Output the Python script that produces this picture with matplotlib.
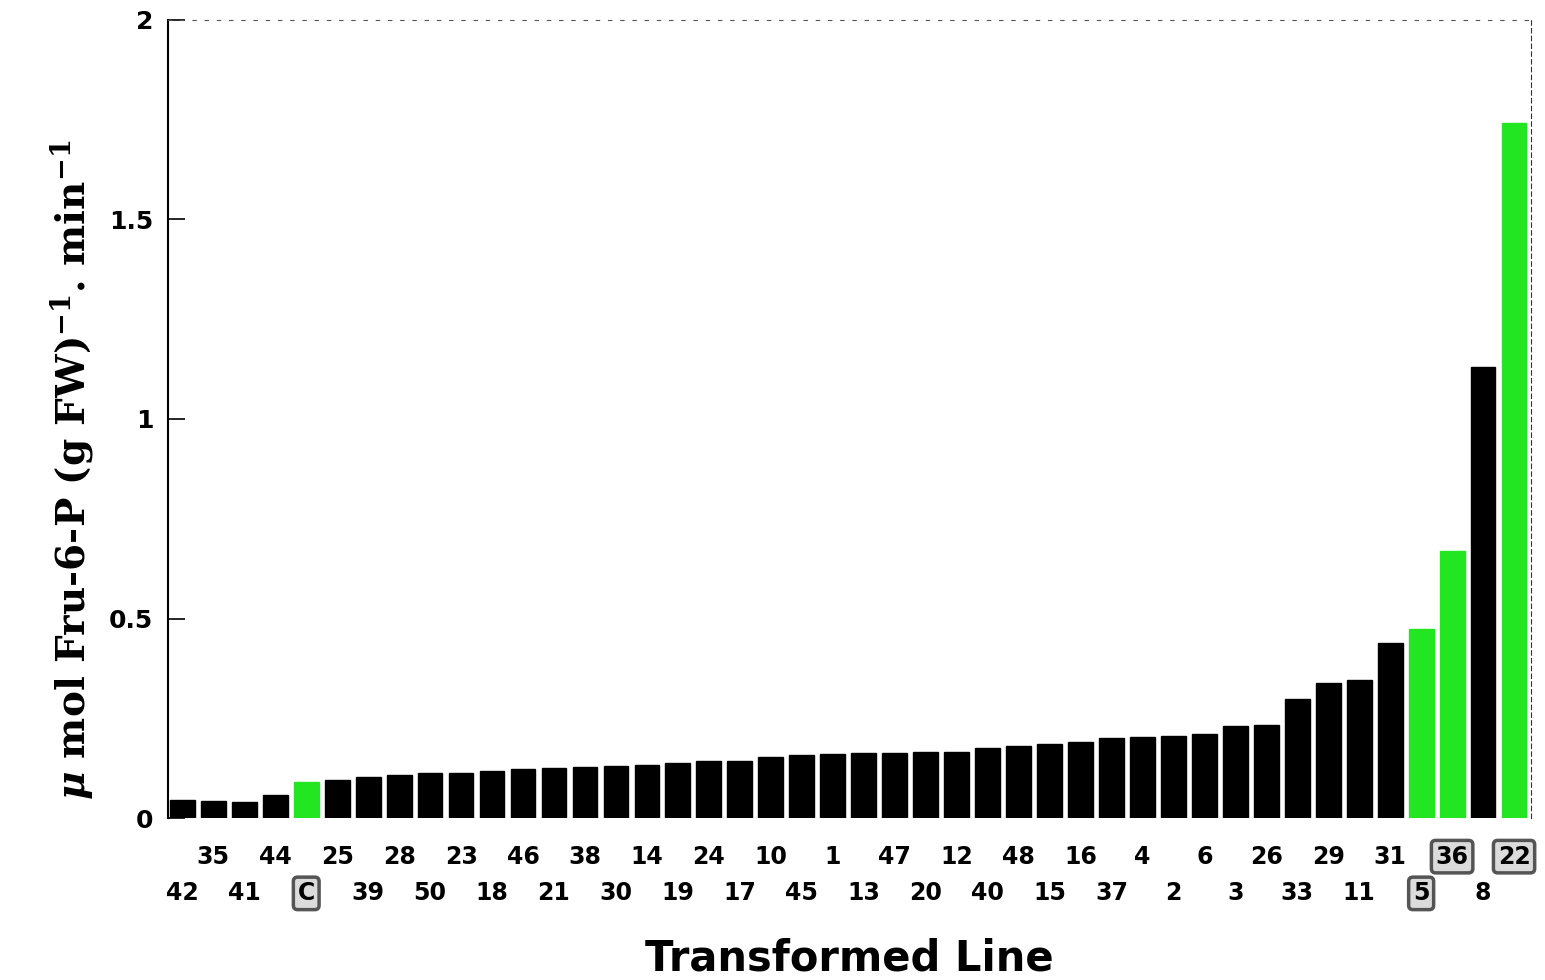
import matplotlib
matplotlib.use("Agg")
import matplotlib.pyplot as plt
from matplotlib.transforms import blended_transform_factory

# Transformed lines, sorted by activity (left to right)
lines = ['42', '35', '41', '44', 'C', '25', '39', '28', '50', '23', '18',
         '46', '21', '38', '30', '14', '19', '24', '17', '10', '45', '1',
         '13', '47', '20', '12', '40', '48', '15', '16', '37', '4', '2',
         '6', '3', '26', '33', '29', '11', '31', '5', '36', '8', '22']
activity = [0.045, 0.043, 0.040, 0.058, 0.090, 0.095, 0.103, 0.108, 0.113,
            0.113, 0.118, 0.123, 0.126, 0.128, 0.130, 0.133, 0.138, 0.143,
            0.143, 0.153, 0.158, 0.160, 0.163, 0.163, 0.165, 0.165, 0.176,
            0.180, 0.187, 0.190, 0.200, 0.203, 0.205, 0.210, 0.230, 0.233,
            0.298, 0.340, 0.346, 0.438, 0.474, 0.669, 1.130, 1.740]
highlighted = ['C', '5', '36', '22']
yticks = [0, 0.5, 1, 1.5, 2]
ytick_labels = ['0', '0.5', '1', '1.5', '2']

green = '#22e622'
colors = [green if l in highlighted else 'black' for l in lines]
x = list(range(len(lines)))

plt.rcParams['mathtext.fontset'] = 'custom'
plt.rcParams['mathtext.rm'] = 'DejaVu Serif:bold'
plt.rcParams['mathtext.bf'] = 'DejaVu Serif:bold'
plt.rcParams['mathtext.it'] = 'DejaVu Serif:italic:bold'

fig = plt.figure(figsize=(15.45, 9.8), dpi=100)
ax = fig.add_axes([0.109, 0.165, 0.882, 0.815])

ax.bar(x, activity, width=0.8, color=colors, edgecolor=colors, linewidth=1)

ax.set_xlim(-0.45, 43.55)
ax.set_ylim(0, 2)
ax.set_yticks(yticks)
ax.set_yticklabels(ytick_labels, fontfamily='DejaVu Sans',
                   fontweight='bold', fontsize=18)
ax.set_xticks([])
ax.tick_params(axis='y', direction='in', length=12, width=1.2, pad=11)

ax.spines['bottom'].set_visible(False)
ax.spines['left'].set_linewidth(1.5)
ax.spines['top'].set_linestyle((0, (3, 8)))
ax.spines['top'].set_color('#555555')
ax.spines['right'].set_linestyle((0, (4, 3)))
ax.spines['right'].set_color('#333333')

# staggered line labels in two rows
trans = blended_transform_factory(ax.transData, ax.transAxes)
for i, lab in enumerate(lines):
    ypos = -0.094 if i % 2 == 0 else -0.048
    box = None
    if lab in highlighted:
        box = dict(boxstyle='round,pad=0.18', facecolor='#d8d8d8',
                   edgecolor='#444444', linewidth=2.5, alpha=0.9)
    ax.text(i, ypos, lab, transform=trans, ha='center', va='center',
            fontsize=17, fontweight='bold', family='DejaVu Sans',
            bbox=box, clip_on=False)

ax.text(0.5, -0.175, 'Transformed Line', transform=ax.transAxes,
        ha='center', va='center', fontsize=30, fontweight='bold',
        family='DejaVu Sans')
ax.text(-0.071, 0.436, r'$\mu$ mol Fru-6-P (g FW)$^{\mathbf{-1}}$. min$^{\mathbf{-1}}$',
        transform=ax.transAxes, rotation=90, ha='center', va='center',
        fontsize=28, fontweight='bold', family='DejaVu Serif')

fig.savefig('out.png', dpi=100)
